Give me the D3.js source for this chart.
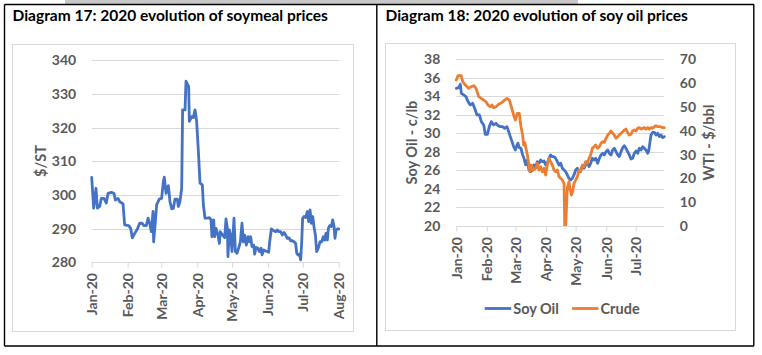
<!DOCTYPE html>
<html><head><meta charset="utf-8">
<script src="https://cdn.jsdelivr.net/npm/d3@7"></script>
<style>
body{margin:0;background:#fff}
svg{display:block}
text{font-family:Lato,"Open Sans",sans-serif;font-weight:bold}
</style>
</head><body><svg id="c" width="762" height="355"></svg>
<script>
// ---------- DATA ----------
const monthTickDays = [0, 31, 60, 91, 121, 152, 182, 213];
const monthTickLabels = ["Jan-20", "Feb-20", "Mar-20", "Apr-20", "May-20", "Jun-20", "Jul-20", "Aug-20"];

// Diagram 17: soymeal ($/ST), x = days since 1 Jan 2020
const soymealDay = [0,1.7,3.7,4.9,6.9,8.3,10.6,12.6,14.1,16.9,19.2,20.4,22.7,24.1,27.0,28.4,31.9,33.6,35.0,37.1,39.4,41.4,43.4,45.1,47.1,48.6,50.3,51.4,52.9,53.4,54.9,56.0,58.3,60.3,61.8,62.6,64.1,66.1,67.5,69.0,70.4,71.8,73.8,74.7,76.1,77.6,78.4,80.5,81.3,82.8,83.6,84.2,86.2,87.6,89.1,90.5,92.0,93.4,95.4,96.3,97.7,99.7,101.4,102.9,103.7,105.2,106.0,107.2,108.9,110.1,110.9,112.9,114.7,115.8,117.0,117.5,118.7,119.8,121.0,122.7,123.9,125.3,126.7,128.2,129.6,130.8,131.9,133.3,134.8,135.9,137.1,138.2,139.7,140.5,141.7,143.1,144.6,146.0,146.9,148.3,149.7,151.2,152.6,153.5,154.9,156.9,158.9,160.1,161.5,163.0,164.4,165.8,167.3,168.7,170.1,171.6,173.0,174.5,175.9,176.8,177.9,179.1,180.2,181.1,181.9,183.1,184.5,186.0,187.1,188.3,189.4,190.6,191.7,192.9,194.0,195.4,196.9,198.3,199.7,200.9,202.0,203.2,204.1,205.2,206.7,207.8,209.0,209.8,210.7,211.8,213.0];
const soymealPrice = [305.2,296.1,302.0,296.1,296.6,299.0,299.0,297.6,300.5,300.8,300.5,298.5,299.0,298.0,297.4,291.1,290.9,290.1,287.3,288.6,289.9,291.6,291.6,290.9,290.9,293.1,291.1,289.1,295.1,286.1,292.1,297.1,298.8,299.0,304.0,305.3,300.5,302.8,298.0,295.9,296.0,298.8,298.8,296.6,298.0,302.0,325.3,325.3,333.8,332.8,332.3,321.9,323.3,323.0,325.3,321.9,312.9,303.5,303.0,297.1,293.1,293.1,293.3,292.6,287.6,292.6,287.6,290.1,288.1,285.6,289.1,288.1,287.3,292.9,290.1,281.7,289.6,288.1,283.2,293.1,283.2,282.7,284.2,286.1,291.6,286.1,288.1,285.1,287.6,286.1,287.6,284.7,285.1,282.4,284.4,284.2,283.2,284.2,282.2,283.7,283.4,283.2,283.0,286.1,289.9,289.4,289.1,289.6,289.1,289.1,288.1,288.9,288.1,287.1,287.3,286.4,286.4,286.1,285.6,282.7,282.2,282.4,280.7,286.1,293.1,293.6,293.3,295.1,292.1,295.6,291.6,293.6,290.6,288.1,283.2,284.2,286.1,286.1,287.6,286.6,288.6,286.6,290.1,290.9,290.6,292.6,290.6,287.1,289.6,289.9,289.9];
const soymealTicks = [280, 290, 300, 310, 320, 330, 340];

// Diagram 18: soy oil (c/lb, left axis) and WTI crude ($/bbl, right axis)
const soyOilDay = [0,2.4,4.1,5.1,7.5,9.8,11.9,14.2,16.6,18.6,21.0,23.4,25.4,27.8,29.4,31.5,33.5,35.5,37.9,40.3,42.3,44.7,47.0,49.1,51.4,53.1,54.8,56.5,58.2,59.9,61.6,62.6,63.9,65.6,67.3,68.7,70.4,72.1,73.7,75.4,77.1,78.8,80.5,82.2,83.9,85.6,87.3,89.0,90.7,92.3,94.0,95.7,97.4,99.1,100.8,102.5,104.2,105.9,107.6,109.3,110.9,112.6,114.3,116.0,117.7,119.4,121.1,122.8,124.5,126.2,127.8,129.5,131.2,132.9,134.6,136.3,138.0,139.7,141.4,143.4,145.1,146.8,148.5,150.2,151.9,153.6,155.2,156.9,158.6,160.3,162.0,163.7,165.4,167.1,168.8,170.5,172.1,173.8,175.5,177.2,178.9,180.6,182.3,184.0,185.7,187.4,189.1,190.7,192.4,194.1,195.1,196.5,197.5,199.2,200.9,202.6,204.3,206.0,207.7,209.4,211.0];
const soyOilPrice = [34.87,34.94,35.30,34.33,34.15,33.97,33.43,33.07,33.25,32.71,31.99,31.99,31.27,30.91,29.90,29.90,30.73,31.27,30.91,31.09,30.84,30.73,30.73,30.55,30.73,30.19,29.65,29.11,28.57,28.21,28.75,28.93,28.46,28.39,27.67,27.31,26.60,27.10,26.05,25.87,26.05,26.59,26.41,26.95,26.77,27.13,26.95,27.02,26.59,26.77,27.31,27.67,27.49,27.49,27.31,26.95,26.59,26.77,26.23,26.05,25.87,25.51,25.15,24.97,25.15,25.51,26.05,26.23,25.87,26.05,26.41,26.23,26.59,26.95,26.41,26.77,27.31,27.13,27.31,26.77,27.31,27.67,27.85,27.67,28.03,28.21,27.85,27.67,28.21,28.39,28.03,27.67,27.49,28.03,28.46,28.67,28.39,28.03,27.67,27.24,27.31,27.85,28.10,27.85,28.39,28.21,28.57,28.39,28.21,27.85,28.03,29.11,29.83,30.12,30.12,29.83,30.01,29.65,29.83,29.54,29.65];
const crudeDay = [0,1.7,5.1,6.5,9.2,12.5,15.2,18.0,20.0,22.7,25.4,27.8,30.1,32.2,34.5,36.2,37.9,40.3,43.0,46.4,49.1,51.4,53.8,55.8,58.2,59.9,61.9,63.9,65.6,67.3,68.3,69.5,72.1,73.7,74.8,76.1,78.1,80.5,82.2,83.9,85.6,87.3,89.0,90.7,92.3,94.0,95.7,97.4,99.1,100.8,102.5,104.2,105.9,107.6,109.3,110.0,111.0,112.6,114.3,115.3,116.7,118.0,119.4,121.1,122.8,124.5,126.2,127.8,129.5,131.2,132.9,134.6,136.3,138.0,139.7,141.4,143.4,145.1,146.8,148.5,150.2,151.9,153.6,155.2,156.9,158.6,160.3,162.0,163.7,165.4,167.1,168.8,170.5,172.1,173.8,175.5,177.2,178.9,180.6,182.3,184.0,185.7,187.4,189.1,190.7,192.4,194.1,195.8,197.5,199.2,200.9,202.6,204.3,206.0,207.7,209.4,211.0];
const crudePrice = [61.3,63.1,63.1,60.6,59.2,57.8,58.5,58.9,57.8,54.3,53.6,52.9,52.2,50.8,50.1,50.8,49.7,50.1,51.1,51.9,52.9,53.6,52.9,50.1,46.6,44.5,47.3,47.3,41.7,38.2,34.0,35.0,29.8,25.6,22.8,25.6,23.5,24.2,26.3,23.5,24.9,22.8,24.2,21.4,25.6,28.4,27.0,25.6,23.5,22.8,23.5,20.7,20.0,19.3,17.9,0,0,15.8,18.6,15.8,13.0,14.4,17.9,19.3,20.7,23.5,22.8,25.6,24.9,27.0,26.3,28.4,29.8,32.6,33.3,34.0,32.6,33.3,34.7,35.4,35.1,36.8,38.2,38.9,39.9,38.9,38.2,36.8,37.5,38.2,38.9,39.6,40.3,40.7,39.3,38.2,38.5,39.9,40.3,39.9,41.0,41.3,40.7,41.0,41.3,40.7,41.3,40.7,41.3,41.0,41.7,42.1,41.7,41.7,41.6,41.3,41.3];
const soyOilTicks = [20, 22, 24, 26, 28, 30, 32, 34, 36, 38];
const crudeTicks = [0, 10, 20, 30, 40, 50, 60, 70];
const rightMonthDays = monthTickDays.slice(0, 7);
const rightMonthLabels = monthTickLabels.slice(0, 7);

// ---------- DRAW ----------
const svg = d3.select("#c");
const BLUE = "#4472C4", ORANGE = "#ED7D31", GRID = "#D9D9D9", LBL = "#595959";
const FS = 14;

// top grey strip
svg.append("rect").attr("x", 65).attr("y", 0).attr("width", 513).attr("height", 4).attr("fill", "#C8C8C8");

// chart area borders
svg.append("rect").attr("x", 12.5).attr("y", 44.5).attr("width", 341).attr("height", 287).attr("fill", "#fff").attr("stroke", GRID);
svg.append("rect").attr("x", 385.5).attr("y", 43.5).attr("width", 350).attr("height", 287).attr("fill", "#fff").attr("stroke", GRID);

// table frame
const frame = d3.path();
frame.moveTo(4.5, 4.5); frame.lineTo(754, 4.5);
frame.moveTo(4.5, 4.5); frame.lineTo(4.5, 346);
frame.moveTo(4.5, 346); frame.lineTo(754, 346);
frame.moveTo(376.8, 4.5); frame.lineTo(376.8, 346);
frame.moveTo(753.8, 4.5); frame.lineTo(753.8, 346);
svg.append("path").attr("d", frame.toString()).attr("stroke", "#000").attr("stroke-width", 1.4).attr("fill", "none");

// titles
svg.append("text").attr("x", 12.5).attr("y", 21).attr("font-size", 15.5).attr("fill", "#000").text("Diagram 17: 2020 evolution of soymeal prices");
svg.append("text").attr("x", 385.5).attr("y", 21).attr("font-size", 15.5).attr("fill", "#000").text("Diagram 18: 2020 evolution of soy oil prices");

function styleAxis(g, fs) {
  g.select(".domain").remove();
  g.selectAll("text").attr("fill", LBL).attr("font-size", fs).attr("font-family", "Lato,sans-serif").attr("font-weight", "bold");
}

// ---- Left chart ----
const x1 = d3.scaleLinear().domain([0, 213]).range([91.7, 338.7]);
const y1 = d3.scaleLinear().domain([280, 340]).range([262.3, 60.4]);

svg.append("g").selectAll("line").data(soymealTicks).join("line")
  .attr("x1", 91.7).attr("x2", 339.3).attr("y1", d => Math.round(y1(d)) + 0.5).attr("y2", d => Math.round(y1(d)) + 0.5)
  .attr("stroke", GRID);

const yAx1 = svg.append("g").attr("transform", "translate(91.7,0)")
  .call(d3.axisLeft(y1).tickValues(soymealTicks).tickSize(0).tickPadding(15.5));
styleAxis(yAx1, FS);

const xAx1 = svg.append("g").attr("transform", "translate(0," + (Math.round(y1(280)) + 0.5) + ")")
  .call(d3.axisBottom(x1).tickValues(monthTickDays).tickFormat((d, i) => monthTickLabels[i]).tickSize(5).tickSizeOuter(0));
xAx1.selectAll(".tick line").attr("stroke", GRID);
styleAxis(xAx1, FS);
xAx1.selectAll("text").attr("transform", "rotate(-90)").attr("text-anchor", "end").attr("dy", "0.35em").attr("x", -10.5).attr("y", 0);

svg.append("text").attr("transform", "translate(46,161) rotate(-90)").attr("text-anchor", "middle")
  .attr("font-size", 14.5).attr("fill", LBL).text("$/ST");

const line1 = d3.line().x((d, i) => x1(soymealDay[i])).y(d => y1(d)).curve(d3.curveLinear);
svg.append("path").attr("d", line1(soymealPrice)).attr("fill", "none").attr("stroke", BLUE)
  .attr("stroke-width", 2.8).attr("stroke-linejoin", "round").attr("stroke-linecap", "round");

// ---- Right chart ----
const x2 = d3.scaleLinear().domain([0, 211]).range([456.3, 664.3]);
const y2 = d3.scaleLinear().domain([20, 38]).range([226, 59.3]);
const y3 = d3.scaleLinear().domain([0, 70]).range([226, 59.3]);

svg.append("g").selectAll("line").data(soyOilTicks).join("line")
  .attr("x1", 456.3).attr("x2", 664.3).attr("y1", d => Math.round(y2(d)) + 0.5).attr("y2", d => Math.round(y2(d)) + 0.5)
  .attr("stroke", GRID);

const yAx2 = svg.append("g").attr("transform", "translate(456.3,0)")
  .call(d3.axisLeft(y2).tickValues(soyOilTicks).tickSize(0).tickPadding(16));
styleAxis(yAx2, FS);
const yAx3 = svg.append("g").attr("transform", "translate(664.3,0)")
  .call(d3.axisRight(y3).tickValues(crudeTicks).tickSize(0).tickPadding(15.5));
styleAxis(yAx3, FS);

const xAx2 = svg.append("g").attr("transform", "translate(0," + (Math.round(y2(20)) + 0.5) + ")")
  .call(d3.axisBottom(x2).tickValues(rightMonthDays).tickFormat((d, i) => rightMonthLabels[i]).tickSize(5).tickSizeOuter(0));
xAx2.selectAll(".tick line").attr("stroke", GRID);
styleAxis(xAx2, FS);
xAx2.selectAll("text").attr("transform", "rotate(-90)").attr("text-anchor", "end").attr("dy", "0.35em").attr("x", -10.5).attr("y", 0);

svg.append("text").attr("transform", "translate(417,142.6) rotate(-90)").attr("text-anchor", "middle")
  .attr("font-size", 14.5).attr("fill", LBL).text("Soy Oil - c/lb");
svg.append("text").attr("transform", "translate(714,142.6) rotate(-90)").attr("text-anchor", "middle")
  .attr("font-size", 14.5).attr("fill", LBL).text("WTI - $/bbl");

svg.append("clipPath").attr("id", "clipR").append("rect").attr("x", 440).attr("y", 40).attr("width", 240).attr("height", 186);
const line2 = d3.line().x((d, i) => x2(soyOilDay[i])).y(d => y2(d));
const line3 = d3.line().x((d, i) => x2(crudeDay[i])).y(d => y3(d));
const lines = svg.append("g").attr("clip-path", "url(#clipR)");
lines.append("path").attr("d", line2(soyOilPrice)).attr("fill", "none").attr("stroke", BLUE)
  .attr("stroke-width", 2.8).attr("stroke-linejoin", "round").attr("stroke-linecap", "round");
lines.append("path").attr("d", line3(crudePrice)).attr("fill", "none").attr("stroke", ORANGE)
  .attr("stroke-width", 2.8).attr("stroke-linejoin", "round").attr("stroke-linecap", "round");

// legend
const legend = [{name: "Soy Oil", color: BLUE, x: 484.7}, {name: "Crude", color: ORANGE, x: 572}];
const lg = svg.append("g").selectAll("g").data(legend).join("g").attr("transform", d => "translate(" + d.x + ",308.5)");
lg.append("line").attr("x1", 0).attr("x2", 26.5).attr("y1", 0).attr("y2", 0).attr("stroke", d => d.color).attr("stroke-width", 2.8);
lg.append("text").attr("x", 28.5).attr("dy", "0.35em").attr("font-size", 14.5).attr("fill", LBL).text(d => d.name);
</script>
</body></html>
